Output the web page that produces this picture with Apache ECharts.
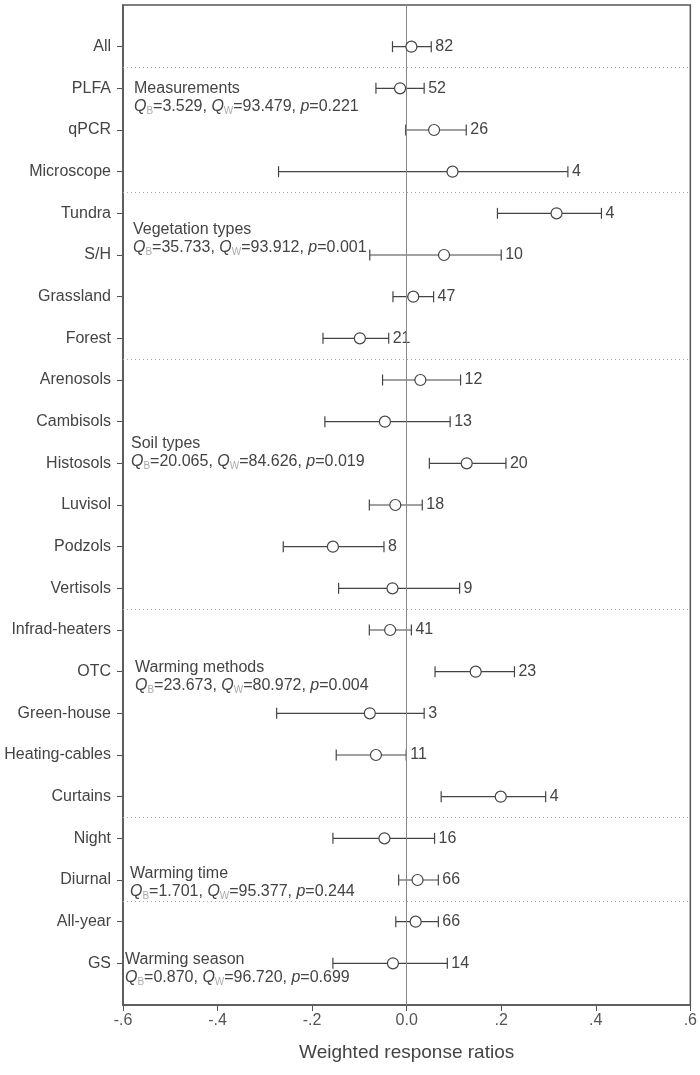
<!DOCTYPE html>
<html>
<head>
<meta charset="utf-8">
<script src="https://cdn.jsdelivr.net/npm/echarts@6/dist/echarts.min.js"></script>
<style>
  html, body { margin: 0; padding: 0; background: #fff; }
  #chart { width: 700px; height: 1075px; }
</style>
</head>
<body>
<div id="chart"></div>
<script>
// rows, top to bottom
const rowNames = ['All', 'PLFA', 'qPCR', 'Microscope', 'Tundra', 'S/H', 'Grassland', 'Forest',
  'Arenosols', 'Cambisols', 'Histosols', 'Luvisol', 'Podzols', 'Vertisols',
  'Infrad-heaters', 'OTC', 'Green-house', 'Heating-cables', 'Curtains',
  'Night', 'Diurnal', 'All-year', 'GS'];
const effects = [0.010, -0.014, 0.058, 0.097, 0.317, 0.079, 0.014, -0.099,
  0.029, -0.046, 0.127, -0.024, -0.156, -0.030,
  -0.035, 0.146, -0.078, -0.065, 0.199,
  -0.047, 0.023, 0.019, -0.029];
const lower = [-0.030, -0.065, -0.002, -0.271, 0.192, -0.078, -0.029, -0.177,
  -0.051, -0.173, 0.048, -0.079, -0.261, -0.144,
  -0.079, 0.060, -0.275, -0.149, 0.073,
  -0.156, -0.017, -0.023, -0.156];
const upper = [0.052, 0.037, 0.126, 0.341, 0.412, 0.200, 0.057, -0.038,
  0.114, 0.092, 0.210, 0.033, -0.048, 0.112,
  0.010, 0.228, 0.037, -0.001, 0.294,
  0.059, 0.067, 0.067, 0.086];
const counts = [82, 52, 26, 4, 4, 10, 47, 21, 12, 13, 20, 18, 8, 9, 41, 23, 3, 11, 4, 16, 66, 66, 14];

// dotted lines between groups (row positions)
const groupBreaks = [1.5, 4.5, 8.5, 14.5, 19.5, 21.5];

// group statistics
const groupTitles = ['Measurements', 'Vegetation types', 'Soil types', 'Warming methods', 'Warming time', 'Warming season'];
const groupQB = ['3.529', '35.733', '20.065', '23.673', '1.701', '0.870'];
const groupQW = ['93.479', '93.912', '84.626', '80.972', '95.377', '96.720'];
const groupP = ['0.221', '0.001', '0.019', '0.004', '0.244', '0.699'];
const noteX = [134, 133, 131, 135, 130, 125];
const noteY = [80, 221, 435, 659, 865, 951];

const FONT = '"Liberation Sans", Arial, sans-serif';
const INK = '#444';

const chart = echarts.init(document.getElementById('chart'));

const rowIdx = rowNames.map((_, i) => i + 1);

const notes = groupTitles.map((t, i) => ({
  type: 'text',
  x: noteX[i],
  y: noteY[i],
  z: 10,
  style: {
    text: t + '\n{i|Q}{s|B}=' + groupQB[i] + ', {i|Q}{s|W}=' + groupQW[i] + ', {i|p}=' + groupP[i],
    font: '16px ' + FONT,
    fill: INK,
    lineHeight: 18,
    rich: {
      i: { fontStyle: 'italic', fontSize: 16, fontFamily: 'Liberation Sans', fill: INK, lineHeight: 18 },
      s: { fontSize: 10, fontFamily: 'Liberation Sans', fill: '#aaa', lineHeight: 10, verticalAlign: 'bottom' }
    }
  }
}));

const option = {
  backgroundColor: '#fff',
  animation: false,
  grid: {
    left: 123, right: 8, top: 5, bottom: 70,
    show: true, borderColor: '#555', borderWidth: 1.5
  },
  xAxis: {
    type: 'value',
    min: -0.6, max: 0.6, interval: 0.2,
    splitLine: { show: false },
    axisLine: { show: true, onZero: false, lineStyle: { color: '#555', width: 1.5 } },
    axisTick: { show: true, length: 6, lineStyle: { color: '#555' } },
    axisLabel: {
      color: '#555', fontSize: 16, fontFamily: FONT, margin: 8,
      formatter: v => {
        const r = Math.round(v * 10) / 10;
        if (r === 0) return '0.0';
        return (r < 0 ? '-' : '') + '.' + Math.abs(r * 10);
      }
    },
    name: 'Weighted response ratios',
    nameLocation: 'middle',
    nameGap: 38,
    nameTextStyle: { color: INK, fontSize: 19, fontFamily: FONT }
  },
  yAxis: {
    type: 'value',
    min: 0, max: 24, interval: 1,
    inverse: true,
    splitLine: { show: false },
    axisLine: { show: true, onZero: false, lineStyle: { color: '#555', width: 1.5 } },
    axisTick: { show: true, length: 6, customValues: rowIdx, lineStyle: { color: '#555' } },
    axisLabel: {
      customValues: rowIdx,
      formatter: v => rowNames[v - 1] || '',
      color: INK, fontSize: 16, fontFamily: FONT, margin: 12
    }
  },
  graphic: notes,
  series: [
    {
      type: 'custom',
      name: 'ci',
      encode: { x: [1, 2], y: 0 },
      data: rowNames.map((_, i) => [i + 1, lower[i], upper[i], counts[i]]),
      renderItem: (params, api) => {
        const y = api.value(0);
        const lo = api.coord([api.value(1), y]);
        const hi = api.coord([api.value(2), y]);
        const h = 5.5;
        const st = { stroke: INK, lineWidth: 1.2 };
        return {
          type: 'group',
          children: [
            { type: 'line', shape: { x1: lo[0], y1: lo[1], x2: hi[0], y2: hi[1] }, style: st },
            { type: 'line', shape: { x1: lo[0], y1: lo[1] - h, x2: lo[0], y2: lo[1] + h }, style: st },
            { type: 'line', shape: { x1: hi[0], y1: hi[1] - h, x2: hi[0], y2: hi[1] + h }, style: st },
            {
              type: 'text', x: hi[0] + 4, y: hi[1],
              style: { text: String(api.value(3)), fill: INK, font: '16px ' + FONT, verticalAlign: 'middle', align: 'left' }
            }
          ]
        };
      },
      markLine: {
        silent: true,
        symbol: 'none',
        label: { show: false },
        lineStyle: { color: '#aaa', type: [1, 3], width: 1 },
        data: groupBreaks.map(v => ({ yAxis: v }))
      },
      z: 3
    },
    {
      type: 'scatter',
      name: 'effect',
      data: effects.map((v, i) => [v, i + 1]),
      symbol: 'circle',
      symbolSize: 11,
      itemStyle: { color: '#fff', borderColor: INK, borderWidth: 1.2, opacity: 1 },
      markLine: {
        silent: true,
        symbol: 'none',
        label: { show: false },
        lineStyle: { color: '#888', type: 'solid', width: 1 },
        data: [{ xAxis: 0 }]
      },
      z: 5
    }
  ]
};

chart.setOption(option);
</script>
</body>
</html>
